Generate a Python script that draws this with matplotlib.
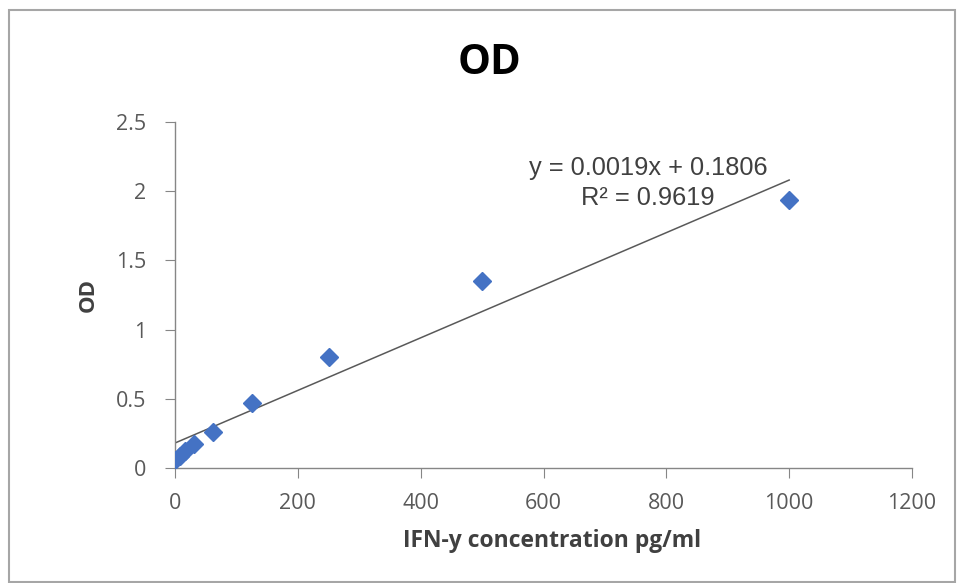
import matplotlib.pyplot as plt
from matplotlib.patches import Rectangle

plt.rcParams['font.family'] = ['Open Sans', 'DejaVu Sans']

# данные стандартной кривой
conc = [0, 7.8, 15.6, 31.25, 62.5, 125, 250, 500, 1000]  # концентрация IFN-y, pg/ml
od = [0.06, 0.09, 0.12, 0.17, 0.26, 0.47, 0.80, 1.35, 1.94]  # оптическая плотность
slope = 0.0019
intercept = 0.1806
r2 = 0.9619
x_ticks = [0, 200, 400, 600, 800, 1000, 1200]
y_ticks = [0, 0.5, 1, 1.5, 2, 2.5]

W, H = 957, 583
fig = plt.figure(figsize=(W / 100, H / 100), dpi=100)
ax = fig.add_axes([175 / W, (H - 468) / H, (912 - 175) / W, (468 - 122) / H])

# рамка вокруг всей диаграммы
fig.patches.append(Rectangle((9 / W, 0.002), (955 - 9) / W, (H - 10) / H - 0.002,
                             transform=fig.transFigure, fill=False,
                             edgecolor='#a6a6a6', linewidth=1.5))

# линия тренда
tx = [min(conc), max(conc)]
ty = [slope * v + intercept for v in tx]
ax.plot(tx, ty, color='#595959', linewidth=1.1, zorder=2)

ax.plot(conc, od, linestyle='none', marker='D', markersize=9,
        color='#4472c4', markeredgecolor='#4472c4', zorder=3)

ax.set_xlim(0, 1200)
ax.set_ylim(0, 2.5)
ax.set_xticks(x_ticks)
ax.set_yticks(y_ticks)
ax.set_yticklabels(['0', '0.5', '1', '1.5', '2', '2.5'])

for s in ['top', 'right']:
    ax.spines[s].set_visible(False)
for s in ['left', 'bottom']:
    ax.spines[s].set_color('#868686')
    ax.spines[s].set_linewidth(1)
ax.tick_params(direction='out', length=7, color='#868686', labelsize=15.5,
               labelcolor='#595959')
ax.tick_params(axis='x', pad=11)
ax.tick_params(axis='y', pad=14)

ax.set_xlabel('IFN-y concentration pg/ml', fontsize=16.5, fontweight='bold',
              color='#404040')
ax.xaxis.set_label_coords(0.512, -0.175)
ax.set_ylabel('OD', fontsize=16, fontweight='bold', color='#404040', labelpad=12)
fig.text(490 / W, 1 - 63 / H, 'OD', ha='center', va='center', fontsize=30,
         fontweight='bold', color='black')

# подпись уравнения тренда
ax.text(770, 2.17, f'y = {slope}x + {intercept}', ha='center', va='center',
        fontsize=18.3, family='Liberation Sans', color='#404040')
ax.text(770, 1.95, f'R² = {r2}', ha='center', va='center',
        fontsize=18.3, family='Liberation Sans', color='#404040')

fig.savefig('out.png', dpi=100)
